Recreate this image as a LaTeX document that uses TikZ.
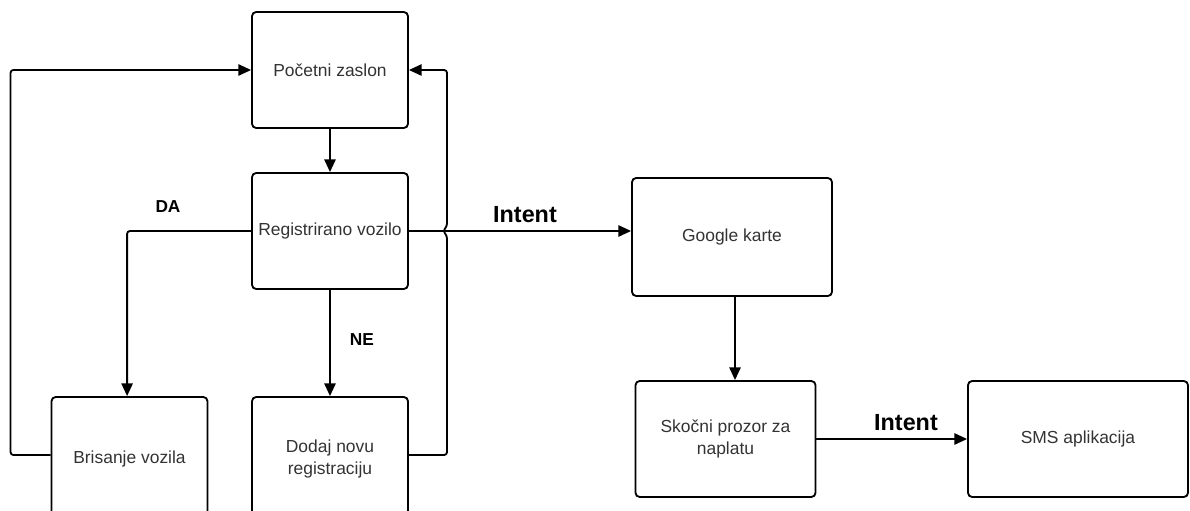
\documentclass[tikz,border=0pt]{standalone}
\usepackage{fontspec}
\setmainfont{Liberation Sans}
\usetikzlibrary{shapes}
\usetikzlibrary{arrows.meta}

\tikzset{
	box/.style={draw, rounded corners=3pt, line width=1.3pt, align=center,
		minimum width=3.9cm, minimum height=2.9cm, inner sep=2pt,
		text=black!80, font=\fontsize{12.4}{15.5}\selectfont},
	arr/.style={-{Triangle[length=9pt,width=8pt]}, line width=1.3pt},
	lbl/.style={font=\fontsize{12.3}{14}\selectfont\bfseries},
	big/.style={font=\fontsize{16.6}{18}\selectfont\bfseries}
}

\begin{document}
\begin{tikzpicture}[x=0.025cm, y=-0.025cm]
					\useasboundingbox (0,0) rectangle (1190,511);
					\node[box] (pz) at (330,70) {Početni zaslon};
					\node[box] (rv) at (330,231) {Registrirano vozilo};
					\node[box, minimum height=3.1cm] (bv) at (129.5,459) {Brisanje vozila};
					\node[box, minimum height=3.1cm] (dn) at (330,459) {Dodaj novu\\registraciju};
					\node[box, minimum width=5cm, minimum height=2.95cm] (gk) at (732,237) {Google karte};
					\node[box, minimum width=4.5cm] (sp) at (725.5,439) {Skočni prozor za\\naplatu};
					\node[box, minimum width=5.5cm] (sms) at (1078,439) {SMS aplikacija};
					\coordinate (hop) at (447,231);
					\node[lbl] (da) at (168,207) {DA};
					\node[lbl] (ne) at (362,340) {NE};
					\node[big] (i1) at (525,215) {Intent};
					\node[big] (i2) at (906,423) {Intent};
					\draw[arr] (pz) -- (rv);
					\draw[arr, rounded corners=2pt] (rv.west) -| ([xshift=-0.06cm]bv.north);
					\draw[arr] (rv) -- (dn);
					\draw[arr] (rv.east) -- (rv.east -| gk.west);
					\draw[arr] (gk.south -| 735,0) -- (sp.north -| 735,0);
					\draw[arr] (sp) -- (sms);
					\draw[arr, rounded corners=2pt] (bv.west |- 0,455) -- ++(-40,0) |- (pz.west);
					\draw[arr, rounded corners=2pt] (dn.east |- 0,455) -| ([yshift=-0.12cm]hop)
						-- ([xshift=-0.1cm]hop) -- ([yshift=0.12cm]hop) |- (pz.east);
				\end{tikzpicture}
\end{document}
